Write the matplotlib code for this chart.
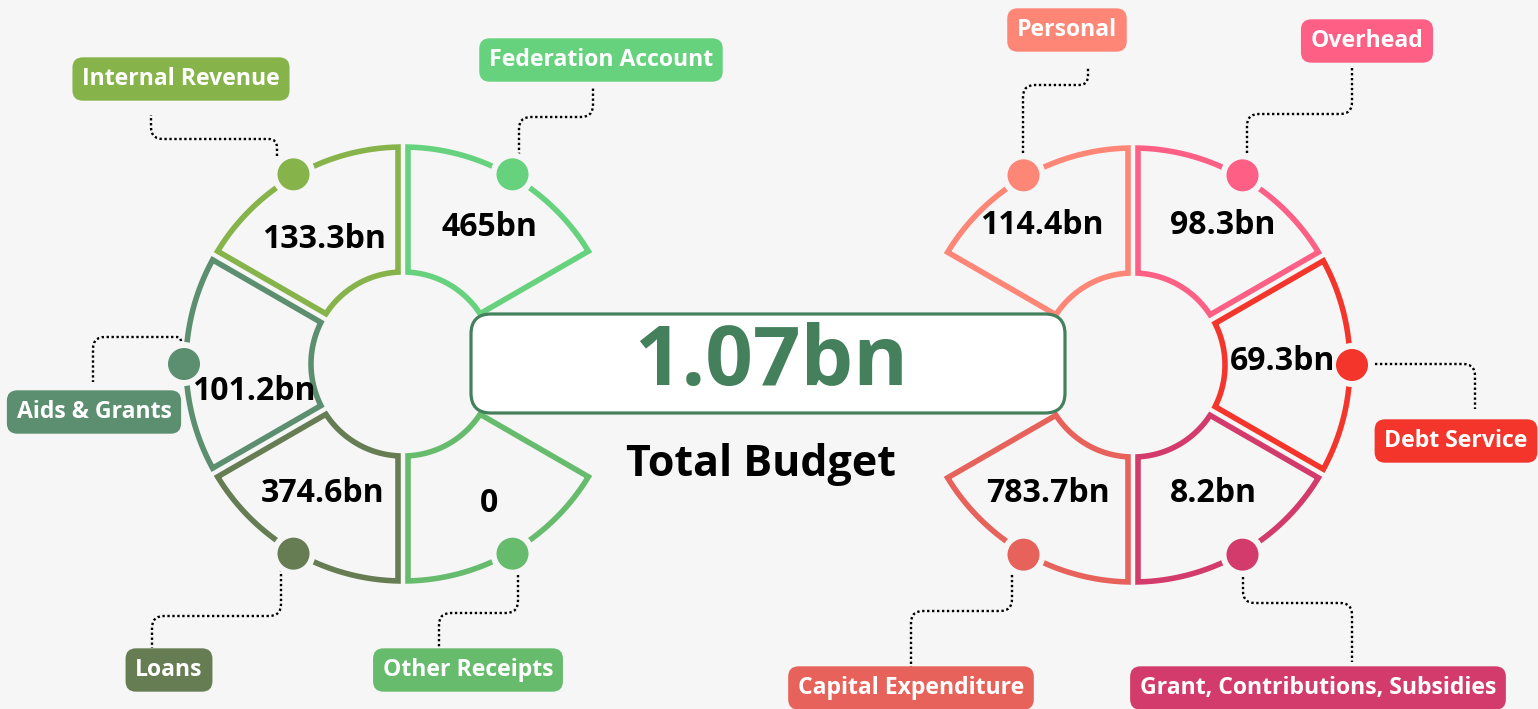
import numpy as np
import matplotlib.pyplot as plt
from matplotlib.patches import Polygon, Circle, FancyBboxPatch, PathPatch
from matplotlib.path import Path

plt.rcParams['font.family'] = ['Open Sans', 'DejaVu Sans']

#%% data
total_value = '1.07bn'
total_label = 'Total Budget'
centre_color = '#43805b'

income_names = ['Federation Account', 'Internal Revenue', 'Aids & Grants', 'Loans', 'Other Receipts']
income_values = ['465bn', '133.3bn', '101.2bn', '374.6bn', '0']
income_colors = ['#66d27e', '#86b34a', '#5b8f6f', '#667d54', '#66bc6c']

spend_names = ['Overhead', 'Personal', 'Capital Expenditure',
               'Grant, Contributions, Subsidies', 'Debt Service']
spend_values = ['98.3bn', '114.4bn', '783.7bn', '8.2bn', '69.3bn']
spend_colors = ['#fd5f85', '#fd8677', '#e6625b', '#d33b6c', '#f3352b']

#%% layout (pixel space, y down)
W, H = 1538, 709
BG = '#f6f6f6'
R_OUT, R_IN, GAP = 217, 92, 5
DOT_R = 16

income_layout = dict(
    centre=(403, 364),
    starts=[30, 90, 150, 210, 270],
    value_off=[(86, -136), (-79, -124), (-149, 28), (-80, 129), (86, 140)],
    box=[(601, 60), (181, 79), (94, 412), (169, 670), (468, 670)],
    lead=[((519, 155), 117, (593, 87)),
          ((277, 156), 139, (151, 115)),
          ((181, 346), 337, (93, 382)),
          ((281, 569), 616, (152, 648)),
          ((518, 570), 613, (439, 648))],
)
spend_layout = dict(
    centre=(1133, 365),
    starts=[30, 90, 210, 270, 330],
    value_off=[(90, -139), (-91, -139), (-85, 128), (80, 128), (150, -3)],
    box=[(1367, 41), (1067, 30), (911, 688), (1318, 688), (1456, 441)],
    lead=[((1247, 158), 114, (1352, 67)),
          ((1023, 158), 85, (1088, 67)),
          ((1012, 570), 611, (911, 667)),
          ((1243, 572), 603, (1352, 662)),
          ((1370, 364), 364, (1475, 409))],
)


def pt(c, r, a):
    return (c[0] + r * np.cos(np.deg2rad(a)), c[1] - r * np.sin(np.deg2rad(a)))


def sector(c, a0, a1):
    do = np.rad2deg(np.arcsin(GAP / R_OUT))
    di = np.rad2deg(np.arcsin(GAP / R_IN))
    outer = [pt(c, R_OUT, a) for a in np.linspace(a0 + do, a1 - do, 60)]
    inner = [pt(c, R_IN, a) for a in np.linspace(a1 - di, a0 + di, 40)]
    return outer + inner


def leader(p0, ym, p3, rad=12):
    pts = [p0, (p0[0], ym), (p3[0], ym), p3]
    # drop zero-length legs
    clean = [pts[0]]
    for p in pts[1:]:
        if np.hypot(p[0] - clean[-1][0], p[1] - clean[-1][1]) > 0.5:
            clean.append(p)
    verts, codes = [clean[0]], [Path.MOVETO]
    for i in range(1, len(clean) - 1):
        a, b, n = np.array(clean[i - 1]), np.array(clean[i]), np.array(clean[i + 1])
        r = min(rad, np.linalg.norm(b - a) / 2, np.linalg.norm(n - b) / 2)
        u1 = (b - a) / np.linalg.norm(b - a)
        u2 = (n - b) / np.linalg.norm(n - b)
        verts += [tuple(b - u1 * r), tuple(b), tuple(b + u2 * r)]
        codes += [Path.LINETO, Path.CURVE3, Path.CURVE3]
    verts.append(clean[-1])
    codes.append(Path.LINETO)
    return Path(verts, codes)


def draw_ring(ax, names, values, colors, lay):
    c = lay['centre']
    for i, name in enumerate(names):
        a0 = lay['starts'][i]
        col = colors[i]
        ax.add_patch(Polygon(sector(c, a0, a0 + 60), closed=True, fill=False,
                             ec=col, lw=4.0, joinstyle='miter', zorder=2))
        # dotted leader
        p0, ym, p3 = lay['lead'][i]
        ax.add_patch(PathPatch(leader(p0, ym, p3), fill=False, ec='black',
                               lw=1.7, ls=(0, (1, 1.1)), zorder=1))
        # marker dot with halo
        d = pt(c, R_OUT + 2, a0 + 30)
        ax.add_patch(Circle(d, DOT_R + 6, fc=BG, ec='none', zorder=3))
        ax.add_patch(Circle(d, DOT_R, fc=col, ec='none', zorder=4))
        # value text
        dx, dy = lay['value_off'][i]
        ax.text(c[0] + dx, c[1] + dy, values[i], ha='center', va='center',
                fontsize=23, fontweight='bold', color='black', zorder=5)
        # category label box
        bx, by = lay['box'][i]
        ax.text(bx, by, name, ha='center', va='center', fontsize=16.6,
                fontweight='bold', color='white', zorder=6,
                bbox=dict(boxstyle='round,pad=0.42,rounding_size=0.45',
                          fc=col, ec='none'))


fig = plt.figure(figsize=(W / 100, H / 100), dpi=100)
fig.patch.set_facecolor(BG)
ax = fig.add_axes([0, 0, 1, 1])
ax.set_xlim(0, W)
ax.set_ylim(H, 0)
ax.set_facecolor(BG)
ax.axis('off')

draw_ring(ax, income_names, income_values, income_colors, income_layout)
draw_ring(ax, spend_names, spend_values, spend_colors, spend_layout)

#%% centre box
ax.add_patch(FancyBboxPatch((471, 314), 594, 99,
                            boxstyle='round,pad=0,rounding_size=20',
                            fc='white', ec=centre_color, lw=2.3, zorder=7))
ax.text(771, 363, total_value, ha='center', va='center', fontsize=60,
        fontweight='bold', color=centre_color, zorder=8)
ax.text(761, 465, total_label, ha='center', va='center', fontsize=31,
        fontweight='bold', color='black', zorder=8)

fig.savefig('out.png', dpi=100, facecolor=BG)
